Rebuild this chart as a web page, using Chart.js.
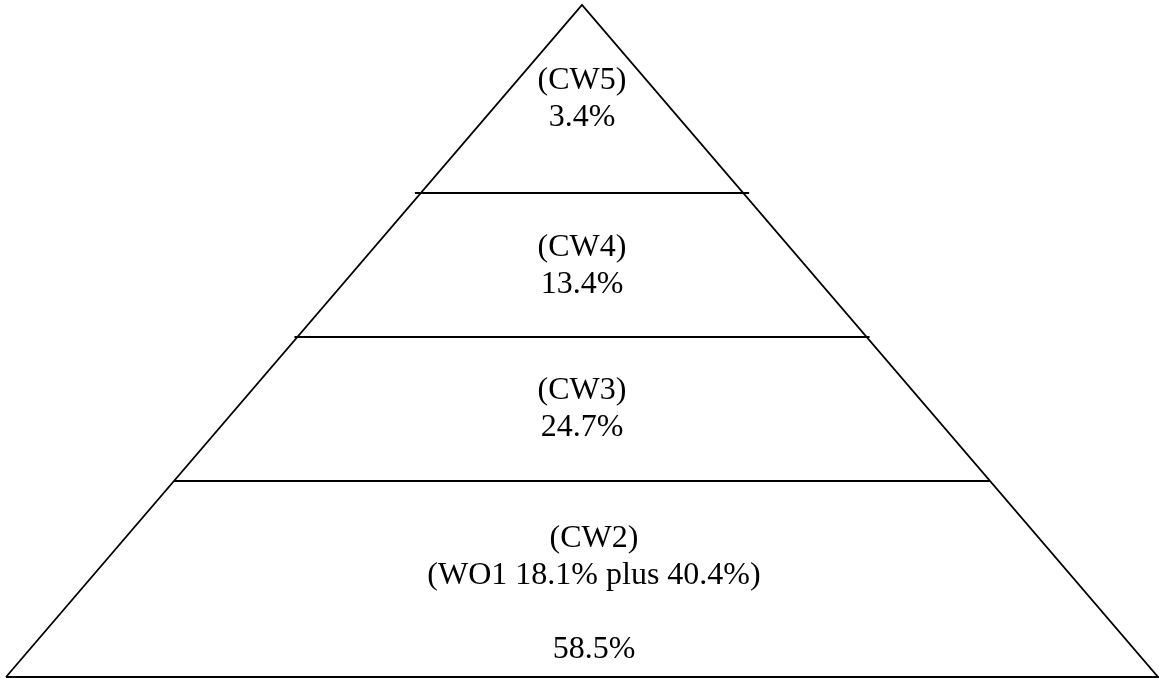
<!DOCTYPE html>
<html>
<head>
<meta charset="utf-8">
<script src="https://cdn.jsdelivr.net/npm/chart.js@4/dist/chart.umd.min.js"></script>
<style>
    html, body { margin: 0; padding: 0; background: #fff; }
    #wrap { width: 1159px; height: 679px; position: relative; }
</style>
</head>
<body>
<div id="wrap"><canvas id="pyramid"></canvas></div>
<script>
// Tiers, top to bottom
const tierNames = ['(CW5)', '(CW4)', '(CW3)', '(CW2)'];
const tierShares = [3.4, 13.4, 24.7, 58.5];
const cw2Split = [18.1, 40.4];   // WO1 part + rest
// Tier edges in diagram height units, apex down to base
const tierLevels = [672, 484, 340, 196, 0];

const APEX = tierLevels[0];
const BASE_HALF = 576;

function halfWidth(h) {
    return BASE_HALF * (1 - h / APEX);
}

function tierLines(i) {
    const lines = [tierNames[i]];
    if (i === 3) {
        lines.push('(WO1 ' + cw2Split[0].toFixed(1) + '% plus ' + cw2Split[1].toFixed(1) + '%)');
        lines.push('');
    }
    lines.push(tierShares[i].toFixed(1) + '%');
    return lines;
}

// outline of the triangle
const outline = [
    { x: -halfWidth(0), y: 0 },
    { x: 0, y: APEX },
    { x: halfWidth(0), y: 0 },
    { x: -halfWidth(0), y: 0 }
];

// dividers between tiers, a touch wider than the triangle
const overhang = [6, 3, 0];
const dividers = tierLevels.slice(1, -1).map((h, k) => ({
    data: [{ x: -halfWidth(h) - overhang[k], y: h }, { x: halfWidth(h) + overhang[k], y: h }],
    showLine: true, borderColor: '#000', borderWidth: 2, pointRadius: 0, clip: false
}));

const tierText = {
    id: 'tierText',
    afterDatasetsDraw(chart, args, opts) {
        const ctx = chart.ctx;
        const xs = chart.scales.x, ys = chart.scales.y;
        ctx.save();
        ctx.fillStyle = '#000';
        ctx.font = '32px "Liberation Serif", "Times New Roman", serif';
        ctx.textAlign = 'center';
        ctx.textBaseline = 'alphabetic';
        tierNames.forEach((name, i) => {
            const top = ys.getPixelForValue(tierLevels[i]);
            const cx = xs.getPixelForValue(0) + opts.shift[i];
            tierLines(i).forEach((t, j) => {
                if (t) ctx.fillText(t, cx, top + opts.firstLine[i] + j * opts.lineHeight);
            });
        });
        ctx.restore();
    }
};

new Chart(document.getElementById('pyramid'), {
    type: 'scatter',
    data: {
        datasets: [
            { data: outline, showLine: true, borderColor: '#000', borderWidth: 1.8, pointRadius: 0, clip: false },
            ...dividers
        ]
    },
    options: {
        responsive: true, maintainAspectRatio: false,
        animation: false,
        layout: { padding: 0 },
        scales: {
            x: { type: 'linear', min: -582, max: 577, display: false },
            y: { type: 'linear', min: -2, max: 677, display: false }
        },
        plugins: {
            legend: { display: false },
            tooltip: { enabled: false },
            tierText: { firstLine: [84, 63, 62, 66], shift: [0, 0, 0, 12], lineHeight: 37 }
        }
    },
    plugins: [tierText]
});
</script>
</body>
</html>
